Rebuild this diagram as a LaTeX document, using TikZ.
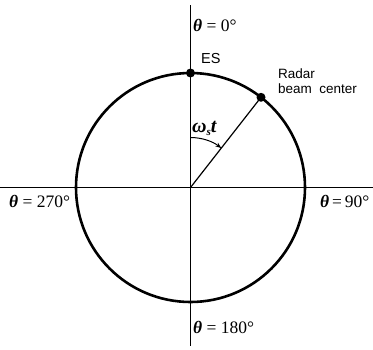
\documentclass[tikz,border=0pt]{standalone}
\usepackage{fontspec}
\setmainfont{Liberation Serif}
\newfontfamily\sansf{Liberation Sans}
\usetikzlibrary{arrows.meta}
\begin{document}
\begin{tikzpicture}[x=1pt,y=-1pt,
  lbl/.style={anchor=base west, inner sep=0pt, font=\fontsize{17.5}{19}\selectfont},
  slbl/.style={anchor=base west, inner sep=0pt, font=\sansf\fontsize{13.5}{15}\selectfont},
  dot/.style={circle, fill=black, inner sep=0pt, minimum size=9pt},
  axis/.style={line width=0.9pt},
  rim/.style={line width=2.6pt}]
\useasboundingbox (0,0) rectangle (373,349);
\coordinate (O) at (190.5,187.5);
\coordinate (vt) at (190.5,5);
\coordinate (vb) at (190.5,346);
\coordinate (hl) at (0,187.5);
\coordinate (hr) at (373,187.5);
\draw[axis] (vt) -- (vb);
\draw[axis] (hl) -- (hr);
\draw[rim] (O) circle (114.5);
\node[dot] (es) at (190.5,73) {};
\node[dot] (rad) at (261,97.3) {};
\draw[line width=1.2pt] (O) -- (rad.center);
\draw[line width=1pt,-{Stealth[length=6pt,width=4.5pt]}] (O) ++(0,-50) arc[start angle=-90,end angle=-52,radius=50];
\node[lbl] (t0) at (193,31) {{\bfseries\itshape θ} = 0°};
\node[lbl] (t270) at (9,207) {{\bfseries\itshape θ} = 270°};
\node[lbl] (t90) at (320,207) {{\bfseries\itshape θ}\,=\,90°};
\node[lbl] (t180) at (193,333) {{\bfseries\itshape θ} = 180°};
\node[slbl, font=\sansf\fontsize{14.5}{16}\selectfont] (eslbl) at (201,63) {ES};
\node[slbl] (r1) at (278,78) {Radar};
\node[slbl] (r2) at (278,93) {beam\ \ center};
\node[anchor=base west, inner sep=0pt, font=\fontsize{20}{22}\selectfont] (wt) at (192,132) {{\bfseries\itshape ω\raisebox{-3pt}{\fontsize{11}{11}\selectfont s}t}};
\end{tikzpicture}
\end{document}
